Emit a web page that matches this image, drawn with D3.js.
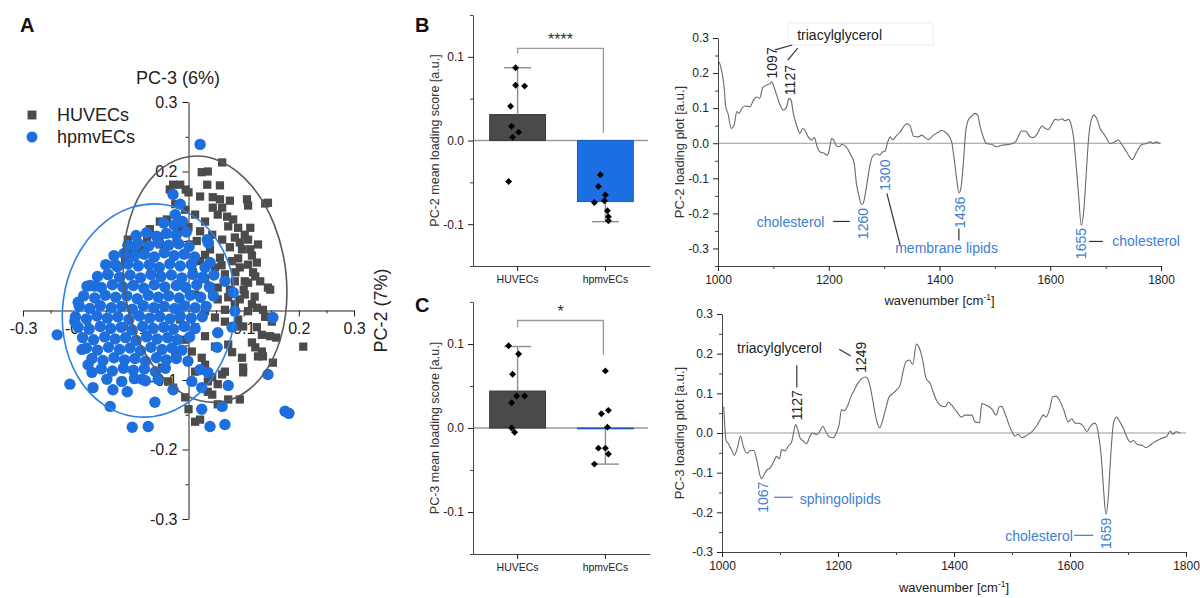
<!DOCTYPE html>
<html>
<head>
<meta charset="utf-8">
<script src="https://cdn.jsdelivr.net/npm/d3@7"></script>
<style>
  body { margin: 0; background: #fff; }
  svg text { font-family: "Liberation Sans", Arial, sans-serif; }
</style>
</head>
<body>
<div id="d3-container"></div>
<script>
// ---------------- data ----------------
const groups = ["HUVECs", "hpmvECs"];

// Panel A: PCA scores [PC-2, PC-3]
const huvecScores = [
  [0.061,0.213],[0.024,0.199],[0.035,0.200],[-0.028,0.181],[-0.015,0.181],[-0.034,0.174],[-0.005,0.174],[0.034,0.181],[0.057,0.180],[0.021,0.164],
  [0.044,0.163],[0.057,0.160],[0.075,0.158],[0.106,0.160],[0.108,0.151],[0.139,0.154],[0.144,0.155],[0.000,0.170],[0.044,0.148],[0.061,0.148],
  [0.053,0.138],[0.070,0.135],[0.081,0.131],[0.072,0.121],[0.090,0.119],[0.102,0.109],[0.108,0.102],[0.084,0.105],[0.093,0.098],[0.112,0.088],
  [0.115,0.079],[0.097,0.088],[0.117,0.055],[0.121,0.049],[0.102,0.042],[0.144,0.033],[-0.052,0.128],[-0.039,0.131],[-0.070,0.117],[-0.075,0.102],
  [-0.110,0.102],[-0.106,0.083],[0.124,0.069],[0.108,0.040],[0.148,0.030],[0.102,0.023],[0.115,0.009],[0.124,0.004],[0.139,-0.009],[0.151,-0.016],
  [0.090,-0.013],[0.099,-0.023],[0.124,-0.024],[0.133,-0.035],[0.148,-0.037],[0.159,-0.039],[0.208,-0.052],[0.115,-0.046],[0.121,-0.053],[0.097,-0.068],
  [0.099,-0.082],[0.099,-0.089],[0.133,-0.059],[0.135,-0.066],[0.153,-0.075],[0.066,-0.088],[0.061,-0.092],[0.035,-0.102],[0.053,-0.106],[0.035,-0.117],
  [0.043,-0.121],[0.072,-0.128],[0.093,-0.128],[0.053,-0.135],[0.021,-0.157],[0.012,-0.160],[0.000,-0.142],[0.180,-0.147],[0.043,0.027],[0.053,0.016],
  [0.072,0.019],[0.084,0.009],[0.030,-0.001],[0.048,-0.010],[0.066,-0.016],[0.084,-0.023],[0.012,-0.024],[0.030,-0.037],[0.048,-0.052],[0.072,-0.049],
  [0.079,-0.060],[0.006,-0.059],[0.024,-0.068],[0.012,-0.088],[0.043,-0.096],[0.030,-0.078],[-0.048,-0.082],[-0.037,-0.102],[-0.028,-0.111],[-0.006,-0.125],
  [-0.061,0.004],[-0.075,-0.035],[0.135,0.001],[0.142,-0.009],[0.126,-0.066],[0.012,0.138],[0.030,0.128],[0.021,0.114],[0.043,0.109],[0.061,0.102],
  [0.075,0.091],[0.039,0.088],[0.057,0.076],[0.079,0.071],[0.093,0.062],[0.048,0.062],[0.066,0.052],[0.084,0.042],[0.030,0.045],[0.053,0.033],
  [0.075,0.030],[0.093,0.016],[0.108,-0.001],[0.066,0.001],[0.012,0.023],[0.021,0.071],[0.003,0.095],[-0.015,0.117],[-0.024,0.153],[-0.006,0.145],
  [-0.088,0.088],[-0.052,0.095],[-0.115,0.071],[0.126,0.095],[0.112,0.119],[0.130,0.042],[0.108,0.066],[-0.015,-0.013],[-0.006,-0.042],[-0.024,-0.063],
  [0.000,0.120],[0.015,0.100],[0.030,0.080],[0.008,0.055],[0.090,0.075],[0.100,0.030],[0.060,0.065],[0.085,0.055],[0.120,0.020]
];

const hpmvScores = [
  [-0.045,0.126],[-0.026,0.123],[-0.011,0.128],
  [-0.095,0.108],[-0.076,0.112],[-0.058,0.107],[-0.040,0.111],[-0.022,0.109],[-0.004,0.113],
  [-0.110,0.094],[-0.092,0.097],[-0.072,0.093],[-0.055,0.098],[-0.036,0.094],[-0.018,0.096],[0.001,0.092],[0.036,0.097],
  [-0.135,0.079],[-0.117,0.082],[-0.098,0.078],[-0.080,0.081],[-0.062,0.077],[-0.044,0.083],[-0.026,0.079],[-0.008,0.081],[0.011,0.077],
  [-0.150,0.066],[-0.129,0.063],[-0.110,0.067],[-0.091,0.064],[-0.071,0.066],[-0.053,0.062],[-0.034,0.067],[-0.015,0.064],[0.005,0.066],[0.030,0.062],
  [-0.165,0.049],[-0.146,0.052],[-0.125,0.048],[-0.106,0.051],[-0.087,0.047],[-0.068,0.052],[-0.050,0.049],[-0.031,0.051],[-0.012,0.047],[0.008,0.052],[0.026,0.048],[0.046,0.051],
  [-0.178,0.036],[-0.158,0.033],[-0.138,0.037],[-0.119,0.034],[-0.100,0.036],[-0.081,0.032],[-0.062,0.037],[-0.043,0.034],[-0.022,0.036],[-0.005,0.033],[0.015,0.037],[0.038,0.034],
  [-0.190,0.021],[-0.170,0.018],[-0.151,0.022],[-0.132,0.019],[-0.112,0.021],[-0.093,0.017],[-0.073,0.022],[-0.055,0.019],[-0.036,0.021],[-0.017,0.018],[0.003,0.022],[0.022,0.019],[0.045,0.021],
  [-0.198,0.006],[-0.179,0.003],[-0.160,0.007],[-0.140,0.004],[-0.121,0.006],[-0.102,0.002],[-0.082,0.007],[-0.063,0.004],[-0.044,0.006],[-0.025,0.003],[-0.008,0.007],[0.012,0.004],[0.032,0.006],
  [-0.205,-0.009],[-0.185,-0.012],[-0.166,-0.008],[-0.147,-0.011],[-0.128,-0.009],[-0.108,-0.013],[-0.089,-0.008],[-0.070,-0.011],[-0.052,-0.009],[-0.033,-0.012],[-0.015,-0.008],[0.005,-0.011],[0.025,-0.009],
  [-0.200,-0.024],[-0.180,-0.027],[-0.160,-0.023],[-0.141,-0.026],[-0.122,-0.024],[-0.102,-0.028],[-0.083,-0.023],[-0.064,-0.026],[-0.045,-0.024],[-0.027,-0.027],[-0.008,-0.023],[0.012,-0.026],
  [-0.192,-0.039],[-0.172,-0.042],[-0.152,-0.038],[-0.133,-0.041],[-0.114,-0.039],[-0.095,-0.043],[-0.076,-0.038],[-0.057,-0.041],[-0.038,-0.039],[-0.020,-0.042],[0.002,-0.038],
  [-0.185,-0.054],[-0.165,-0.057],[-0.145,-0.053],[-0.125,-0.056],[-0.106,-0.054],[-0.087,-0.058],[-0.068,-0.053],[-0.048,-0.056],[-0.030,-0.054],[-0.012,-0.057],
  [-0.175,-0.069],[-0.155,-0.072],[-0.135,-0.068],[-0.116,-0.071],[-0.097,-0.069],[-0.078,-0.073],[-0.058,-0.068],[-0.040,-0.071],[-0.022,-0.069],
  [-0.158,-0.084],[-0.138,-0.087],[-0.118,-0.083],[-0.100,-0.086],[-0.080,-0.084],[-0.060,-0.088],[-0.042,-0.083],
  [-0.148,-0.099],[-0.121,-0.102],[-0.098,-0.098],[-0.078,-0.101],[-0.055,-0.099],
  // scattered ones
  [0.021,0.239],[-0.028,0.167],[-0.015,0.153],[-0.024,0.138],[0.034,0.102],[0.039,0.069],[0.066,0.042],[0.081,0.026],[0.084,-0.001],[0.079,-0.024],
  [0.053,-0.032],[0.153,-0.010],[0.052,-0.053],[-0.001,-0.073],[0.021,-0.085],[0.035,-0.089],[0.006,-0.102],[0.024,-0.111],[0.072,-0.108],[0.061,-0.138],
  [0.144,-0.092],[0.175,-0.145],[0.182,-0.148],[0.024,-0.142],[0.039,-0.167],[0.066,-0.164],[-0.238,-0.035],[-0.215,-0.106],[-0.173,-0.111],[-0.142,-0.138],
  [-0.137,-0.114],[-0.111,-0.117],[-0.102,-0.168],[-0.073,-0.167],[-0.061,-0.132],[-0.084,-0.099],[-0.028,-0.114],[-0.206,-0.016],[-0.200,0.012],[-0.184,0.035],
  [-0.170,0.035],[-0.146,0.052],[-0.133,0.066],[-0.097,0.092],[-0.193,-0.056],[-0.182,-0.078],[-0.175,-0.089]
];

// confidence ellipses [cx, cy, rx, ry]
const ellipseHuvec = [0.030, 0.045, 0.147, 0.178];
const ellipseHpmv = [-0.072, 0.000, 0.156, 0.154];

// Panels B/C bars: mean, error bar end, single values
const pc2Means = [0.031, -0.073];
const pc2ErrEnd = [0.087, -0.097];
const pc2Huvec = [0.087, 0.066, 0.065, 0.041, 0.017, 0.004, 0.010, -0.049];
const pc2Hpmv = [-0.041, -0.055, -0.065, -0.074, -0.072, -0.084, -0.091, -0.096];

const pc3Means = [0.044, -0.001];
const pc3ErrEnd = [0.097, -0.043];
const pc3Huvec = [0.098, 0.088, 0.064, 0.038, 0.038, 0.030, 0.000, -0.005];
const pc3Hpmv = [0.068, 0.017, 0.021, 0.001, -0.024, -0.024, -0.031, -0.043];

// loading plots [wavenumber, loading]
const pc2Loading = [
  [1002,0.232],[1005,0.218],[1011,0.161],[1014,0.104],[1018,0.085],[1024,0.042],[1029,0.051],[1034,0.090],[1038,0.085],[1043,0.099],
  [1049,0.106],[1058,0.104],[1064,0.123],[1070,0.132],[1075,0.128],[1081,0.159],[1088,0.166],[1094,0.170],[1097,0.175],[1101,0.161],
  [1106,0.137],[1112,0.109],[1118,0.094],[1124,0.104],[1128,0.128],[1132,0.123],[1136,0.085],[1142,0.051],[1148,0.028],[1153,0.042],
  [1157,0.037],[1163,0.018],[1169,0.009],[1174,0.016],[1179,-0.010],[1184,-0.025],[1191,-0.028],[1197,-0.034],[1201,-0.020],[1205,0.013],
  [1209,0.009],[1213,-0.006],[1219,-0.010],[1224,-0.003],[1231,-0.010],[1240,-0.034],[1246,-0.058],[1250,-0.115],[1255,-0.153],[1259,-0.174],
  [1262,-0.172],[1266,-0.144],[1271,-0.096],[1275,-0.058],[1281,-0.034],[1287,-0.030],[1292,-0.034],[1297,-0.025],[1302,-0.022],[1306,0.001],
  [1311,0.018],[1315,0.010],[1323,0.023],[1329,0.032],[1335,0.047],[1341,0.056],[1347,0.049],[1353,0.020],[1362,0.018],[1368,0.023],
  [1374,0.016],[1380,0.010],[1389,0.023],[1398,0.032],[1404,0.037],[1410,0.032],[1416,0.023],[1422,0.004],[1426,-0.039],[1431,-0.101],
  [1435,-0.142],[1439,-0.125],[1443,-0.058],[1447,0.028],[1452,0.066],[1458,0.077],[1464,0.085],[1469,0.080],[1473,0.051],[1479,0.018],
  [1485,-0.001],[1494,-0.003],[1503,-0.010],[1512,-0.006],[1527,-0.003],[1537,0.004],[1542,0.018],[1548,0.035],[1556,0.034],[1564,0.018],
  [1570,0.016],[1577,0.028],[1585,0.049],[1591,0.042],[1597,0.039],[1603,0.054],[1609,0.068],[1615,0.066],[1621,0.070],[1627,0.064],
  [1633,0.068],[1638,0.051],[1642,0.018],[1646,-0.049],[1651,-0.144],[1656,-0.234],[1660,-0.201],[1665,-0.087],[1669,0.009],[1674,0.066],
  [1679,0.080],[1684,0.070],[1690,0.042],[1696,0.028],[1702,0.013],[1708,-0.001],[1717,0.004],[1723,0.009],[1729,-0.003],[1738,-0.025],
  [1748,-0.047],[1756,-0.025],[1765,-0.004],[1774,-0.001],[1781,0.004],[1786,-0.001],[1791,0.004],[1798,-0.001]
];

const pc3Loading = [
  [1003,0.066],[1007,-0.019],[1011,-0.027],[1017,-0.044],[1021,-0.056],[1026,-0.040],[1032,-0.008],[1037,-0.035],[1043,-0.051],[1049,-0.044],
  [1055,-0.044],[1060,-0.069],[1064,-0.098],[1068,-0.115],[1072,-0.107],[1077,-0.094],[1083,-0.088],[1089,-0.073],[1094,-0.059],[1099,-0.065],
  [1103,-0.042],[1109,-0.045],[1114,-0.034],[1120,-0.023],[1123,-0.002],[1127,0.021],[1131,0.007],[1135,-0.014],[1140,-0.020],[1146,-0.027],
  [1151,-0.010],[1156,0.000],[1163,-0.004],[1169,0.005],[1174,0.017],[1179,0.003],[1185,-0.010],[1192,-0.012],[1198,0.003],[1202,0.021],
  [1206,0.059],[1211,0.056],[1217,0.070],[1222,0.091],[1228,0.108],[1234,0.125],[1241,0.137],[1247,0.141],[1251,0.137],[1255,0.120],
  [1260,0.082],[1264,0.049],[1268,0.024],[1272,0.013],[1277,0.032],[1282,0.059],[1288,0.091],[1294,0.099],[1301,0.109],[1307,0.120],
  [1312,0.154],[1317,0.179],[1323,0.184],[1329,0.173],[1335,0.224],[1340,0.215],[1346,0.184],[1352,0.137],[1359,0.125],[1364,0.104],
  [1370,0.082],[1376,0.070],[1385,0.066],[1390,0.078],[1396,0.070],[1405,0.053],[1413,0.040],[1419,0.045],[1431,0.045],[1436,0.028],
  [1444,0.026],[1448,0.074],[1456,0.070],[1465,0.061],[1473,0.045],[1478,0.066],[1482,0.067],[1488,0.049],[1494,0.024],[1500,0.003],
  [1505,-0.008],[1511,-0.003],[1517,-0.012],[1525,-0.006],[1534,0.003],[1542,0.017],[1548,0.032],[1554,0.045],[1559,0.040],[1565,0.061],
  [1570,0.091],[1576,0.093],[1582,0.082],[1589,0.059],[1597,0.028],[1603,0.036],[1609,0.025],[1617,0.024],[1623,0.017],[1629,0.003],
  [1635,0.017],[1643,0.025],[1649,-0.002],[1654,-0.061],[1658,-0.145],[1662,-0.205],[1666,-0.162],[1670,-0.061],[1675,0.024],[1680,0.040],
  [1686,0.028],[1693,0.008],[1698,-0.010],[1704,-0.023],[1709,-0.019],[1716,-0.029],[1724,-0.031],[1731,-0.037],[1738,-0.031],[1745,-0.023],
  [1753,-0.017],[1761,-0.012],[1767,-0.008],[1773,0.005],[1777,-0.003],[1783,0.003],[1790,0.000]
];

// ---------------- styles ----------------
const grayMark = "#4b4b4b",
  blueMark = "#1d6fde",
  annBlue = "#3c7fcf",
  fmt1 = function(d) { return d.toFixed(1); };

let svg = d3.select('#d3-container')
  .append('svg')
  .attr('width', 1200)
  .attr('height', 598)
  .style('background-color', 'white');

function styleAxis(g, size) {
  g.attr("font-family", null).attr("font-size", size);
  g.selectAll("path, line").attr("stroke", "#222");
  g.selectAll("text").attr("fill", "#222");
}

function panelLetter(t, x, y) {
  svg.append("text").attr("x", x).attr("y", y).text(t)
    .attr("font-size", 20).attr("font-weight", "bold").attr("fill", "#111");
}

// ================= Panel A: score plot =================
let xA = d3.scaleLinear().domain([-0.3, 0.3]).range([23, 354]),
    yA = d3.scaleLinear().domain([-0.3, 0.3]).range([519, 102]);

let minorA = [-0.25, -0.15, -0.05, 0.05, 0.15, 0.25];
let majorA = [-0.3, -0.2, -0.1, 0.1, 0.2, 0.3];

let gxA = svg.append("g").attr("transform", "translate(0," + yA(0) + ")")
  .call(d3.axisBottom(xA).tickValues(majorA).tickFormat(fmt1).tickSize(6).tickSizeOuter(0).tickPadding(6));
styleAxis(gxA, 16);
svg.append("g").attr("transform", "translate(0," + yA(0) + ")")
  .call(d3.axisBottom(xA).tickValues(minorA).tickFormat("").tickSize(3))
  .call(g => g.select(".domain").remove())
  .selectAll("line").attr("stroke", "#222");

let gyA = svg.append("g").attr("transform", "translate(" + xA(0) + ",0)")
  .call(d3.axisLeft(yA).tickValues(majorA).tickFormat(fmt1).tickSize(6).tickSizeOuter(0).tickPadding(5));
styleAxis(gyA, 16);
svg.append("g").attr("transform", "translate(" + xA(0) + ",0)")
  .call(d3.axisLeft(yA).tickValues(minorA).tickFormat("").tickSize(3))
  .call(g => g.select(".domain").remove())
  .selectAll("line").attr("stroke", "#222");

// HUVECs squares first, hpmvECs circles on top
svg.append("g").selectAll("path")
  .data(huvecScores)
  .enter().append("path")
  .attr("d", d3.symbol().type(d3.symbolSquare).size(68))
  .attr("transform", function(d) { return "translate(" + xA(d[0]) + "," + yA(d[1]) + ")"; })
  .attr("fill", grayMark);

svg.append("g").selectAll("circle")
  .data(hpmvScores)
  .enter().append("circle")
  .attr("cx", function(d) { return xA(d[0]); })
  .attr("cy", function(d) { return yA(d[1]); })
  .attr("r", 5.7)
  .attr("fill", blueMark);

// ellipses, converted through the scales
function drawEllipse(e, color, angle) {
  let cx = xA(e[0]), cy = yA(e[1]);
  svg.append("ellipse")
    .attr("cx", cx).attr("cy", cy)
    .attr("rx", xA(e[0] + e[2]) - cx)
    .attr("ry", cy - yA(e[1] + e[3]))
    .attr("transform", "rotate(" + angle + "," + cx + "," + cy + ")")
    .attr("fill", "none").attr("stroke", color).attr("stroke-width", 1.6);
}
drawEllipse(ellipseHuvec, "#5a5a5a", -7);
drawEllipse(ellipseHpmv, "#2f82e0", 8);

// legend
svg.append("path").attr("d", d3.symbol().type(d3.symbolSquare).size(80))
  .attr("transform", "translate(32,115)").attr("fill", grayMark);
svg.append("circle").attr("cx", 32).attr("cy", 137).attr("r", 5.5).attr("fill", blueMark);
svg.append("text").attr("x", 57).attr("y", 121).text(groups[0]).attr("font-size", 18).attr("fill", "#222");
svg.append("text").attr("x", 57).attr("y", 143).text(groups[1]).attr("font-size", 18).attr("fill", "#222");

svg.append("text").attr("x", 178).attr("y", 84).attr("text-anchor", "middle")
  .text("PC-3 (6%)").attr("font-size", 18).attr("fill", "#222");
svg.append("text").attr("transform", "translate(387," + yA(0) + ") rotate(-90)")
  .attr("text-anchor", "middle").text("PC-2 (7%)").attr("font-size", 18).attr("fill", "#222");

panelLetter("A", 20, 32);

// ================= Panels B and C: bar charts =================
function drawBars(cfg) {
  let x = d3.scaleBand().domain(groups).range([473, 650]).paddingInner(0.364).paddingOuter(0.19),
      y = d3.scaleLinear().domain([-0.15, 0.15]).range([cfg.bottom, cfg.top]);

  // zero line
  svg.append("line")
    .attr("x1", 473).attr("x2", 648).attr("y1", y(0)).attr("y2", y(0))
    .attr("stroke", "#9a9a9a").attr("stroke-width", 1.3);

  svg.selectAll(null)
    .data(cfg.means)
    .enter().append("rect")
    .attr("x", function(d, i) { return x(groups[i]); })
    .attr("width", x.bandwidth())
    .attr("y", function(d) { return y(Math.max(0, d)); })
    .attr("height", function(d) { return Math.abs(y(d) - y(0)); })
    .attr("fill", function(d, i) { return i === 0 ? "#4a4a4a" : "#1b6fe0"; })
    .attr("stroke", function(d, i) { return i === 0 ? "#3a3a3a" : "#1a5fc0"; })
    .attr("stroke-width", 1);

  // error bars (one sided)
  cfg.errEnd.forEach(function(e, i) {
    let cx = x(groups[i]) + x.bandwidth() / 2;
    svg.append("line").attr("x1", cx).attr("x2", cx)
      .attr("y1", y(cfg.means[i])).attr("y2", y(e))
      .attr("stroke", "#8e8e8e").attr("stroke-width", 1.4);
    svg.append("line").attr("x1", cx - 13.5).attr("x2", cx + 13.5)
      .attr("y1", y(e)).attr("y2", y(e))
      .attr("stroke", "#8e8e8e").attr("stroke-width", 1.4);
  });

  // single values
  cfg.values.forEach(function(vals, i) {
    let cx = x(groups[i]) + x.bandwidth() / 2;
    svg.append("g").selectAll("path")
      .data(vals)
      .enter().append("path")
      .attr("d", d3.symbol().type(d3.symbolSquare).size(24))
      .attr("transform", function(d, j) {
        return "translate(" + (cx + cfg.jitter[i][j]) + "," + y(d) + ") rotate(45)";
      })
      .attr("fill", "#000");
  });

  // significance bracket
  let c0 = x(groups[0]) + x.bandwidth() / 2, c1 = x(groups[1]) + x.bandwidth() / 2 - 2;
  svg.append("path")
    .attr("d", d3.line()([[c0, y(cfg.bracket[1])], [c0, y(cfg.bracket[0])], [c1, y(cfg.bracket[0])], [c1, y(cfg.bracket[2])]]))
    .attr("fill", "none").attr("stroke", "#9a9a9a").attr("stroke-width", 1.3);
  svg.append("text").attr("x", (c0 + c1) / 2).attr("y", y(cfg.bracket[0]) + cfg.starDy)
    .attr("text-anchor", "middle").text(cfg.star).attr("font-size", 16).attr("fill", "#333");

  // axes
  let gy = svg.append("g").attr("transform", "translate(473,0)")
    .call(d3.axisLeft(y).tickValues([-0.1, 0, 0.1]).tickFormat(fmt1).tickSize(5).tickSizeOuter(0).tickPadding(4));
  styleAxis(gy, 12);
  gy.select(".domain").attr("stroke", "#444");
  svg.append("g").attr("transform", "translate(473,0)")
    .call(d3.axisLeft(y).tickValues([-0.15, -0.05, 0.05, 0.15]).tickFormat("").tickSize(3))
    .call(g => g.select(".domain").remove())
    .selectAll("line").attr("stroke", "#444");

  let gx = svg.append("g").attr("transform", "translate(0," + cfg.bottom + ")")
    .call(d3.axisBottom(x).tickSize(5).tickSizeOuter(0).tickPadding(5));
  styleAxis(gx, 10.5);
  gx.select(".domain").attr("stroke", "#444");

  svg.append("text")
    .attr("transform", "translate(439," + (cfg.top + cfg.bottom) / 2 + ") rotate(-90)")
    .attr("text-anchor", "middle").text(cfg.ylabel).attr("font-size", 12.5).attr("fill", "#333");
}

drawBars({
  top: 15, bottom: 266,
  means: pc2Means, errEnd: pc2ErrEnd, values: [pc2Huvec, pc2Hpmv],
  jitter: [[-2, -2, 7, -7, -6, -5, 1, -9], [-5, -7, 0, -11, -1, 2, 3, 3]],
  bracket: [0.110, 0.104, 0.009], star: "****", starDy: -3,
  ylabel: "PC-2 mean loading score [a.u.]"
});
drawBars({
  top: 302, bottom: 554,
  means: pc3Means, errEnd: pc3ErrEnd, values: [pc3Huvec, pc3Hpmv],
  jitter: [[-9, 1, -5, -1, 7, -6, -6, -3], [0, -4, 3, 2, -7, 0, 3, -11]],
  bracket: [0.128, 0.120, 0.087], star: "*", starDy: -3,
  ylabel: "PC-3 mean loading score [a.u.]"
});
panelLetter("B", 415, 32);
panelLetter("C", 415, 312);

// ================= Loading plots =================
function drawSpectrum(cfg) {
  let x = d3.scaleLinear().domain([1000, 1800]).range(cfg.xRange),
      y = d3.scaleLinear().domain(cfg.yDomain).range(cfg.yRange);

  svg.append("line")
    .attr("x1", x(1000)).attr("x2", x(1800)).attr("y1", y(0)).attr("y2", y(0))
    .attr("stroke", "#9a9a9a").attr("stroke-width", 1.2);

  svg.append("path")
    .datum(cfg.data)
    .attr("d", d3.line()
      .x(function(d) { return x(d[0]); })
      .y(function(d) { return y(d[1]); })
      .curve(d3.curveMonotoneX))
    .attr("fill", "none").attr("stroke", "#6a6a6a").attr("stroke-width", 1.1);

  let gy = svg.append("g").attr("transform", "translate(" + cfg.xRange[0] + ",0)")
    .call(d3.axisLeft(y).tickValues([-0.3, -0.2, -0.1, 0, 0.1, 0.2, 0.3]).tickFormat(fmt1).tickSize(5).tickSizeOuter(0).tickPadding(4));
  styleAxis(gy, 12);
  gy.select(".domain").attr("stroke", "#444");
  svg.append("g").attr("transform", "translate(" + cfg.xRange[0] + ",0)")
    .call(d3.axisLeft(y).tickValues(cfg.minorY).tickFormat("").tickSize(3))
    .call(g => g.select(".domain").remove())
    .selectAll("line").attr("stroke", "#444");

  let gx = svg.append("g").attr("transform", "translate(0," + cfg.yRange[0] + ")")
    .call(d3.axisBottom(x).tickValues([1000, 1200, 1400, 1600, 1800]).tickFormat(d3.format("d")).tickSize(5).tickSizeOuter(0).tickPadding(4));
  styleAxis(gx, 12);
  gx.select(".domain").attr("stroke", "#444");
  svg.append("g").attr("transform", "translate(0," + cfg.yRange[0] + ")")
    .call(d3.axisBottom(x).tickValues([1100, 1300, 1500, 1700]).tickFormat("").tickSize(3))
    .call(g => g.select(".domain").remove())
    .selectAll("line").attr("stroke", "#444");

  svg.append("text")
    .attr("transform", "translate(684," + (cfg.yRange[0] + cfg.yRange[1]) / 2 + ") rotate(-90)")
    .attr("text-anchor", "middle").text(cfg.ylabel).attr("font-size", 13).attr("fill", "#333");

  let xl = svg.append("text")
    .attr("x", (cfg.xRange[0] + cfg.xRange[1]) / 2).attr("y", cfg.xlabelY)
    .attr("text-anchor", "middle").attr("font-size", 13).attr("fill", "#222");
  xl.append("tspan").text("wavenumber [cm");
  xl.append("tspan").text("-1").attr("font-size", 8.5).attr("dy", -5);
  xl.append("tspan").text("]").attr("dy", 5);

  // peak annotations
  cfg.notes.forEach(function(n) {
    if (n.line) {
      svg.append("path")
        .attr("d", d3.line()(n.line.map(function(p) { return [x(p[0]), y(p[1])]; })))
        .attr("fill", "none").attr("stroke", n.color).attr("stroke-width", 1.2);
    } else if (n.box) {
      svg.append("rect")
        .attr("x", x(n.box[0])).attr("y", y(n.box[1]))
        .attr("width", x(n.box[2]) - x(n.box[0])).attr("height", y(n.box[3]) - y(n.box[1]))
        .attr("fill", "none").attr("stroke", "#ececec");
    } else {
      svg.append("text")
        .attr("transform", "translate(" + x(n.at[0]) + "," + y(n.at[1]) + ")" + (n.rot ? " rotate(-90)" : ""))
        .attr("text-anchor", n.anchor || "middle")
        .attr("dy", "0.35em")
        .attr("font-size", 14)
        .attr("fill", n.color)
        .text(n.t);
    }
  });
}

drawSpectrum({
  xRange: [718, 1161], yRange: [266, 38], yDomain: [-0.35, 0.3],
  minorY: [-0.35, -0.25, -0.15, -0.05, 0.05, 0.15, 0.25],
  data: pc2Loading, ylabel: "PC-2 loading plot [a.u.]", xlabelY: 305,
  notes: [
    { box: [1126, 0.343, 1388, 0.28] },
    { t: "triacylglycerol", at: [1143, 0.309], anchor: "start", color: "#222" },
    { t: "1097", at: [1097, 0.229], rot: true, color: "#222" },
    { t: "1127", at: [1130, 0.180], rot: true, color: "#222" },
    { line: [[1103, 0.266], [1134, 0.280]], color: "#333" },
    { line: [[1126, 0.237], [1144, 0.271]], color: "#333" },
    { t: "cholesterol", at: [1070, -0.226], anchor: "start", color: annBlue },
    { line: [[1208, -0.223], [1238, -0.223]], color: "#333" },
    { t: "1260", at: [1262, -0.229], rot: true, color: annBlue },
    { t: "1300", at: [1302, -0.091], rot: true, color: annBlue },
    { line: [[1305, -0.143], [1329, -0.291]], color: "#333" },
    { t: "membrane lipids", at: [1320, -0.300], anchor: "start", color: annBlue },
    { t: "1436", at: [1437, -0.197], rot: true, color: annBlue },
    { line: [[1435, -0.243], [1435, -0.277]], color: "#333" },
    { t: "1655", at: [1656, -0.286], rot: true, color: annBlue },
    { line: [[1670, -0.280], [1695, -0.280]], color: "#333" },
    { t: "cholesterol", at: [1712, -0.280], anchor: "start", color: annBlue }
  ]
});

drawSpectrum({
  xRange: [722, 1186], yRange: [552, 314], yDomain: [-0.3, 0.3],
  minorY: [-0.25, -0.15, -0.05, 0.05, 0.15, 0.25],
  data: pc3Loading, ylabel: "PC-3 loading plot [a.u.]", xlabelY: 592,
  notes: [
    { t: "triacylglycerol", at: [1026, 0.214], anchor: "start", color: "#222" },
    { line: [[1202, 0.211], [1222, 0.194]], color: "#333" },
    { t: "1249", at: [1240, 0.191], rot: true, color: "#222" },
    { t: "1127", at: [1129, 0.070], rot: true, color: "#222" },
    { line: [[1129, 0.171], [1129, 0.115]], color: "#333" },
    { t: "1067", at: [1071, -0.162], rot: true, color: annBlue },
    { line: [[1090, -0.162], [1122, -0.162]], color: annBlue },
    { t: "sphingolipids", at: [1134, -0.167], anchor: "start", color: annBlue },
    { t: "cholesterol", at: [1605, -0.261], anchor: "end", color: annBlue },
    { line: [[1607, -0.258], [1640, -0.258]], color: annBlue },
    { t: "1659", at: [1662, -0.253], rot: true, color: annBlue }
  ]
});
</script>
</body>
</html>
